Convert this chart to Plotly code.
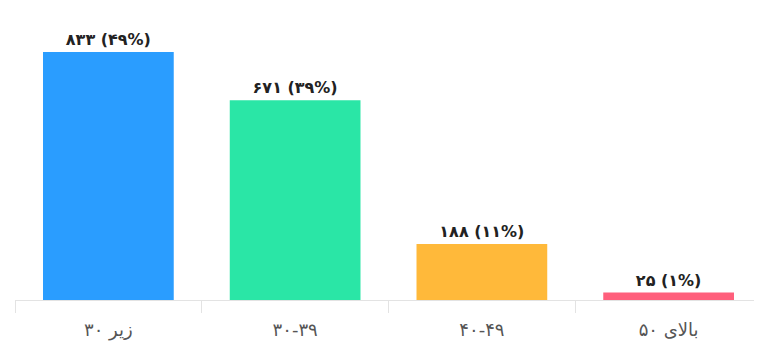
import plotly.graph_objects as go

# age groups and counts
categories = ["زیر ۳۰", "۳۰-۳۹", "۴۰-۴۹", "بالای ۵۰"]
counts = [833, 671, 188, 25]
labels = ["۸۳۳ (۴۹%)", "۶۷۱ (۳۹%)", "۱۸۸ (۱۱%)", "۲۵ (۱%)"]
colors = ["#2a9dff", "#2ae6a6", "#ffb93a", "#ff5f7c"]

fig = go.Figure(
    go.Bar(
        x=categories,
        y=counts,
        text=[f"<b>{t}</b>" for t in labels],
        textposition="outside",
        textfont=dict(size=16, color="#222222"),
        marker=dict(color=colors, line=dict(width=0)),
        cliponaxis=False,
        hoverinfo="skip",
    )
)

# page body adds an 8px offset, margins compensate for it
fig.update_layout(
    width=762,
    height=345,
    margin=dict(l=7, r=8, t=2, b=53),
    paper_bgcolor="white",
    plot_bgcolor="white",
    font=dict(family="DejaVu Sans, Noto Sans", color="#555555"),
    bargap=0.3,
    showlegend=False,
)
fig.update_xaxes(
    showline=True,
    linecolor="#e3e3e3",
    linewidth=1,
    ticks="outside",
    tickson="boundaries",
    ticklen=12,
    tickcolor="#e3e3e3",
    ticklabelstandoff=13,
    tickfont=dict(size=18, color="#555555"),
    showgrid=False,
)
fig.update_yaxes(
    range=[0, 974],
    visible=False,
    showgrid=False,
)

fig.write_html("out.html")
